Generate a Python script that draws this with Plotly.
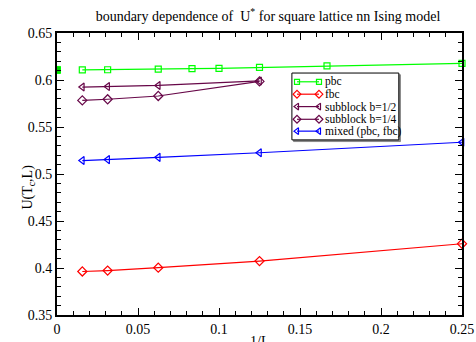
import plotly.graph_objects as go

x_pbc = [0.015625, 0.03125, 0.0625, 1/12, 0.1, 0.125, 1/6, 0.25]
y_pbc = [0.6108, 0.6109, 0.6115, 0.6120, 0.6124, 0.6134, 0.6150, 0.6177]
x_pbc0 = [0.0]
y_pbc0 = [0.6107]

x_fbc = [0.015625, 0.03125, 0.0625, 0.125, 0.25]
y_fbc = [0.3963, 0.3973, 0.4003, 0.4074, 0.4258]

x_sb2 = [0.015625, 0.03125, 0.0625, 0.125]
y_sb2 = [0.5925, 0.5930, 0.5942, 0.5990]

x_sb4 = [0.015625, 0.03125, 0.0625, 0.125]
y_sb4 = [0.5783, 0.5795, 0.5830, 0.5985]

x_mix = [0.015625, 0.03125, 0.0625, 0.125, 0.25]
y_mix = [0.5143, 0.5153, 0.5177, 0.5226, 0.5338]

legend_names = ["pbc", "fbc", "subblock b=1/2", "subblock b=1/4", "mixed (pbc, fbc)"]

font = "Liberation Serif"
maroon = "#670748"
styles = [("#00ff00", "square-open", 6), ("#ff0000", "diamond-open", 7),
          (maroon, "triangle-left-open", 7), (maroon, "diamond-open", 7),
          ("#0000ff", "triangle-left-open", 7)]
series = [(x_pbc, y_pbc), (x_fbc, y_fbc), (x_sb2, y_sb2), (x_sb4, y_sb4), (x_mix, y_mix)]

fig = go.Figure()
for (xs, ys), name, (color, sym, size) in zip(series, legend_names, styles):
    fig.add_trace(go.Scatter(
        x=xs, y=ys, name=name, mode="lines+markers", showlegend=False,
        cliponaxis=False,
        line=dict(color=color, width=1.2),
        marker=dict(symbol=sym, size=size, color=color,
                    line=dict(color=color, width=1.2))))

fig.add_trace(go.Scatter(x=x_pbc0, y=y_pbc0, mode="markers", showlegend=False,
                         cliponaxis=True,
                         marker=dict(symbol="square", size=7, color="#00dd00",
                                     line=dict(color="#00ff00", width=1))))

# custom legend (box in plot-area fractions)
lx0, lx1, ly0, ly1 = 0.580, 0.844, 0.621, 0.858
fig.add_shape(type="rect", xref="paper", yref="paper", x0=lx0 + 0.004, x1=lx1 + 0.004,
              y0=ly0 - 0.006, y1=ly1 - 0.006, line=dict(color="#888888", width=1),
              fillcolor="#888888", layer="below")
fig.add_shape(type="rect", xref="paper", yref="paper", x0=lx0, x1=lx1, y0=ly0, y1=ly1,
              line=dict(color="black", width=1), fillcolor="white", layer="below")
row_y = [0.827, 0.783, 0.739, 0.694, 0.652]
sx0, sx1, tx = 0.5926, 0.6469, 0.657
for name, (color, sym, size), ry in zip(legend_names, styles, row_y):
    fig.add_trace(go.Scatter(
        x=[sx0, sx1], y=[ry, ry], xaxis="x2", yaxis="y2", mode="lines+markers",
        showlegend=False, hoverinfo="skip", cliponaxis=False,
        line=dict(color=color, width=1.2),
        marker=dict(symbol=sym, size=size - 1, color=color,
                    line=dict(color=color, width=1.2))))
    fig.add_annotation(x=tx, y=ry, xref="paper", yref="paper", text=name,
                       showarrow=False, xanchor="left", yanchor="middle",
                       font=dict(family=font, size=11.5, color="black"))

axis_common = dict(
    showline=True, linecolor="black", linewidth=2, mirror="allticks",
    ticks="inside", ticklen=7, tickwidth=1.2, tickcolor="black",
    showgrid=False, zeroline=False, automargin=False,
    tickfont=dict(family=font, size=14, color="black"),
    minor=dict(ticks="inside", ticklen=4, tickwidth=1, tickcolor="black"),
)

fig.add_annotation(x=-0.096, y=0.454, xref="paper", yref="paper",
                   text="U(T<sub>c</sub>,L)", textangle=-90, showarrow=False,
                   font=dict(family=font, size=14, color="black"))
fig.add_annotation(x=0.5, y=-0.062, xref="paper", yref="paper",
                   text="1/L", showarrow=False, xanchor="center", yanchor="top",
                   font=dict(family=font, size=14, color="black"))

fig.update_layout(
    width=476, height=342,
    margin=dict(l=57, r=14, t=33, b=27),
    paper_bgcolor="white", plot_bgcolor="white",
    font=dict(family=font, color="black"),
    title=dict(text="boundary dependence of  U<sup>*</sup> for square lattice nn Ising model",
               x=0.563, xanchor="center", y=0.952, yanchor="middle",
               font=dict(family=font, size=14, color="black")),
    xaxis=dict(range=[0, 0.25], dtick=0.05, tick0=0, **axis_common),
    yaxis=dict(range=[0.35, 0.65], dtick=0.05, tick0=0.35, **axis_common),
    xaxis2=dict(overlaying="x", range=[0, 1], visible=False, fixedrange=True),
    yaxis2=dict(overlaying="y", range=[0, 1], visible=False, fixedrange=True),
    showlegend=False,
)
fig.layout.xaxis.minor.dtick = 0.01
fig.layout.yaxis.minor.dtick = 0.01

fig.write_html("out.html", config={"displayModeBar": False},
               post_script="document.body.style.margin='0';")
